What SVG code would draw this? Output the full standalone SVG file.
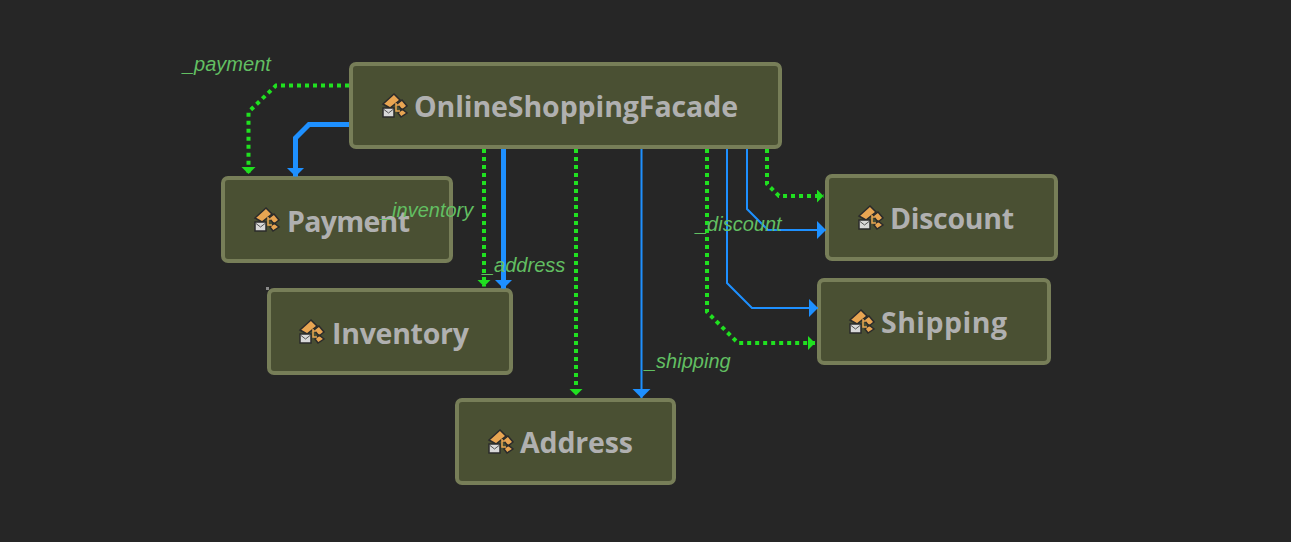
<svg xmlns="http://www.w3.org/2000/svg" xmlns:xlink="http://www.w3.org/1999/xlink" width="1291" height="542" viewBox="0 0 1291 542">
<style>
.box{fill:#4a5033;stroke:#777e58;stroke-width:4}
.name{font-family:"Open Sans","Noto Sans",sans-serif;font-weight:700;font-size:28.500px;fill:#b0b0b0}
.lab{font-family:"Liberation Sans",Arial,sans-serif;font-style:italic;font-size:20px;fill:#62bf62}
.dep{fill:none;stroke:#20e020;stroke-width:4;stroke-dasharray:4 4}
.assoc{fill:none;stroke:#1e90ff}
</style>
<defs>
<marker id="ag" markerUnits="userSpaceOnUse" markerWidth="9" markerHeight="16" refX="7" refY="7.500" orient="auto"><path d="M0 0.500L7 7.500L0 14.500Z" fill="#20e020"/></marker>
<marker id="ab" markerUnits="userSpaceOnUse" markerWidth="11" markerHeight="20" refX="9" refY="9" orient="auto"><path d="M0 0L9 9L0 18Z" fill="#1e90ff"/></marker>
<g id="ic">
<path d="M1 10L12 0L18 6L8 14Z" fill="#e8a552" stroke="#2b2b2b" stroke-width="1.500"/>
<path d="M15 10L20 6L25 12L20 16Z M16 19L20 15L25 19L19 23Z" fill="#e8a552" stroke="#2b2b2b" stroke-width="1.500"/>
<path d="M14 9V17H18M14 11H17" fill="none" stroke="#e8a552" stroke-width="1.500"/>
<rect x="1" y="14" width="11" height="9" fill="#d8d8d8" stroke="#2b2b2b" stroke-width="1.500"/>
<path d="M2 15.500L6.500 19L11 15.500" fill="none" stroke="#555" stroke-width="1"/>
</g>
</defs>
<rect width="1291" height="542" fill="#262626"/>
<g id="OnlineShoppingFacade"><rect class="box" x="351" y="64" width="429" height="83" rx="5"/><use xlink:href="#ic" href="#ic" x="382" y="94"/><text class="name" x="414" y="117" textLength="324">OnlineShoppingFacade</text></g>
<g id="Payment"><rect class="box" x="223" y="178" width="228" height="83" rx="5"/><use xlink:href="#ic" href="#ic" x="254" y="208"/><text class="name" x="287" y="232" textLength="123">Payment</text></g>
<g id="Inventory"><rect class="box" x="269" y="290" width="242" height="83" rx="5"/><rect x="266" y="287" width="3" height="3" fill="#8a8a8a"/><use xlink:href="#ic" href="#ic" x="299" y="320"/><text class="name" x="332" y="344" textLength="137">Inventory</text></g>
<g id="Address"><rect class="box" x="457" y="400" width="217" height="83" rx="5"/><use xlink:href="#ic" href="#ic" x="488" y="430"/><text class="name" x="520" y="453" textLength="113">Address</text></g>
<g id="Discount"><rect class="box" x="827" y="176" width="229" height="83" rx="5"/><use xlink:href="#ic" href="#ic" x="858" y="206"/><text class="name" x="890" y="229" textLength="124">Discount</text></g>
<g id="Shipping"><rect class="box" x="819" y="280" width="230" height="83" rx="5"/><use xlink:href="#ic" href="#ic" x="849" y="310"/><text class="name" x="881" y="333" textLength="126">Shipping</text></g>
<g id="connectors">
<path class="dep" d="M349 85.500H276L248.500 112V174" marker-end="url(#ag)"/>
<path class="assoc" stroke-width="5" d="M349 124.500H309L295.500 138V176.500" marker-end="url(#ab)"/>
<path class="dep" d="M484 149V286.500" marker-end="url(#ag)"/>
<path class="assoc" stroke-width="5" d="M503.500 149V288.500" marker-end="url(#ab)"/>
<path class="dep" d="M576 149V395.500" marker-end="url(#ag)"/>
<path class="assoc" stroke-width="2" d="M641.500 149V398" marker-end="url(#ab)"/>
<path class="dep" d="M707 149V312L738 343H815" marker-end="url(#ag)"/>
<path class="assoc" stroke-width="2" d="M727 149V283L752 308H818" marker-end="url(#ab)"/>
<path class="assoc" stroke-width="2" d="M747 149V209L768 230H826" marker-end="url(#ab)"/>
<path class="dep" d="M767 149V184L779 196H823.500" marker-end="url(#ag)"/>
</g>
<g id="labels">
<text class="lab" x="183" y="71">_payment</text>
<text class="lab" x="381" y="217">_inventory</text>
<text class="lab" x="483" y="272">_address</text>
<text class="lab" x="696" y="231">_discount</text>
<text class="lab" x="645" y="368">_shipping</text>
</g>
</svg>
